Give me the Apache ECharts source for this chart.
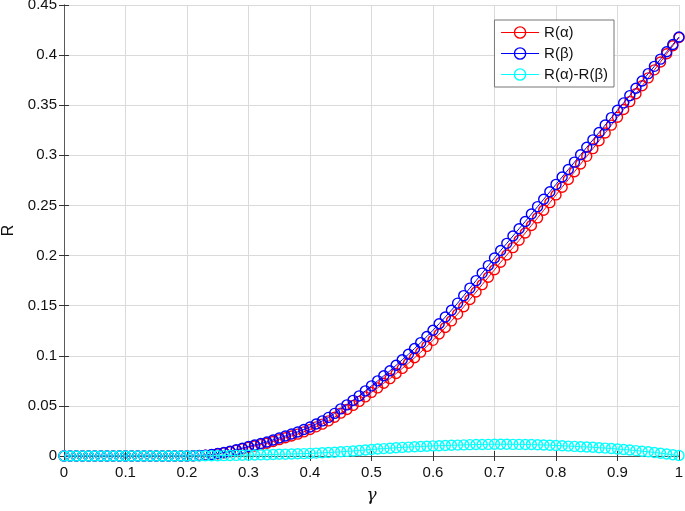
<!DOCTYPE html>
<html>
<head>
<meta charset="utf-8">
<script src="https://cdn.jsdelivr.net/npm/echarts@6/dist/echarts.min.js"></script>
<style>html,body{margin:0;padding:0;background:#fff}#c{width:685px;height:511px}</style>
</head>
<body>
<div id="c"></div>
<script>
const gamma = [0,0.01,0.02,0.03,0.04,0.05,0.06,0.07,0.08,0.09,0.1,0.11,0.12,0.13,0.14,0.15,0.16,0.17,0.18,0.19,0.2,0.21,0.22,0.23,0.24,0.25,0.26,0.27,0.28,0.29,0.3,0.31,0.32,0.33,0.34,0.35,0.36,0.37,0.38,0.39,0.4,0.41,0.42,0.43,0.44,0.45,0.46,0.47,0.48,0.49,0.5,0.51,0.52,0.53,0.54,0.55,0.56,0.57,0.58,0.59,0.6,0.61,0.62,0.63,0.64,0.65,0.66,0.67,0.68,0.69,0.7,0.71,0.72,0.73,0.74,0.75,0.76,0.77,0.78,0.79,0.8,0.81,0.82,0.83,0.84,0.85,0.86,0.87,0.88,0.89,0.9,0.91,0.92,0.93,0.94,0.95,0.96,0.97,0.98,0.99,1];
const rBeta = [0,0,0,0,0,0,0,0,0,0,0,0,0,0,0,0,0,0,0,0,0,0.0002,0.0005,0.0009,0.0015,0.0025,0.0035,0.0048,0.0062,0.0078,0.0095,0.011,0.0125,0.014,0.016,0.018,0.020,0.022,0.024,0.0265,0.029,0.032,0.035,0.0385,0.0425,0.047,0.051,0.0555,0.060,0.065,0.070,0.075,0.080,0.085,0.0905,0.096,0.1015,0.1072,0.1131,0.1192,0.1255,0.132,0.1387,0.1455,0.1525,0.160,0.1675,0.175,0.1825,0.190,0.1975,0.205,0.2122,0.2195,0.2268,0.234,0.2414,0.2488,0.2562,0.2636,0.271,0.2784,0.2858,0.2932,0.3006,0.308,0.3154,0.3228,0.3302,0.3376,0.345,0.3523,0.3596,0.3669,0.3742,0.3815,0.3888,0.396,0.4033,0.4106,0.418];
const rAlpha = [0,0,0,0,0,0,0,0,0,0,0,0,0,0,0,0,0,0,0,0,0,0.0001,0.0004,0.0007,0.0013,0.0022,0.0031,0.0043,0.0056,0.0071,0.0086,0.0100,0.0113,0.0127,0.0145,0.0163,0.0182,0.0200,0.0218,0.0241,0.0264,0.0291,0.0318,0.0350,0.0387,0.0428,0.0464,0.0505,0.0545,0.0590,0.0635,0.0680,0.0726,0.0772,0.0823,0.0874,0.0926,0.0980,0.1036,0.1094,0.1154,0.1217,0.1282,0.1348,0.1416,0.1489,0.1562,0.1636,0.1710,0.1784,0.1858,0.1933,0.2005,0.2079,0.2152,0.2225,0.2300,0.2376,0.2452,0.2528,0.2605,0.2682,0.2759,0.2836,0.2913,0.2990,0.3067,0.3145,0.3223,0.3301,0.3380,0.3458,0.3536,0.3615,0.3694,0.3773,0.3853,0.3932,0.4013,0.4094,0.4175];
const rDiff = [0,0,0,0,0,0,0,0,0,0,0,0,0,0,0,0,0,0,0,0,0,0.0001,0.0001,0.0002,0.0002,0.0003,0.0004,0.0005,0.0006,0.0007,0.0009,0.001,0.0012,0.0013,0.0015,0.0017,0.0018,0.002,0.0022,0.0024,0.0026,0.0029,0.0032,0.0035,0.0038,0.0042,0.0046,0.005,0.0055,0.006,0.0065,0.007,0.0074,0.0078,0.0082,0.0086,0.0089,0.0092,0.0095,0.0098,0.0101,0.0103,0.0105,0.0107,0.0109,0.0111,0.0113,0.0114,0.0115,0.0116,0.0117,0.0117,0.0117,0.0116,0.0116,0.0115,0.0114,0.0112,0.011,0.0108,0.0105,0.0102,0.0099,0.0096,0.0093,0.009,0.0087,0.0083,0.0079,0.0075,0.007,0.0065,0.006,0.0054,0.0048,0.0042,0.0035,0.0028,0.002,0.0012,0.0005];
const seriesNames = ['R(α)', 'R(β)', 'R(α)-R(β)'];
const seriesColors = ['#ff0000', '#0000ff', '#00ffff'];
const seriesData = [rAlpha, rBeta, rDiff];

const font = "'Liberation Sans', Arial, Helvetica, sans-serif";
const chart = echarts.init(document.getElementById('c'), null, {renderer: 'canvas'});

const mkSeries = (i) => ({
  name: seriesNames[i],
  type: 'line',
  data: gamma.map((g, k) => [g, seriesData[i][k]]),
  symbol: 'circle',
  symbolSize: 10,
  showSymbol: true,
  animation: false,
  lineStyle: {color: seriesColors[i], width: 1},
  itemStyle: {color: 'rgba(0,0,0,0)', borderColor: seriesColors[i], borderWidth: 1.4},
  emphasis: {disabled: true},
  z: 3 + i
});

const axisCommon = {
  axisLine: {show: true, lineStyle: {color: '#5a5a5a', width: 1}},
  axisTick: {show: true, inside: true, length: 5, lineStyle: {color: '#333'}},
};

chart.setOption({
  backgroundColor: '#fff',
  animation: false,
  grid: {left: 64, right: 6, top: 5, bottom: 55, containLabel: false, outerBoundsMode: 'none'},
  legend: {
    orient: 'vertical',
    right: 71, top: 20,
    backgroundColor: '#fff',
    borderColor: '#777', borderWidth: 1,
    padding: [5, 6, 5, 6],
    itemGap: 6,
    itemWidth: 38, itemHeight: 14,
    textStyle: {fontFamily: font, fontSize: 15, color: '#111'},
    data: seriesNames.map((n, i) => ({
      name: n,
      itemStyle: {color: 'rgba(0,0,0,0)', borderColor: seriesColors[i], borderWidth: 1.4},
      lineStyle: {color: seriesColors[i], width: 1.2}
    }))
  },
  xAxis: [{
    type: 'value', min: 0, max: 1, interval: 0.1,
    ...axisCommon,
    splitLine: {show: true, lineStyle: {color: '#dadada', width: 1}},
    axisLabel: {fontFamily: font, fontSize: 15, color: '#111', margin: 9},
    name: 'γ', nameLocation: 'middle', nameGap: 31,
    nameTextStyle: {fontFamily: "'DejaVu Serif', 'Liberation Serif', serif", fontStyle: 'italic', fontSize: 17, color: '#111'}
  }, {
    type: 'value', min: 0, max: 1, interval: 0.1, position: 'top',
    ...axisCommon,
    splitLine: {show: false}, axisLabel: {show: false}
  }],
  yAxis: [{
    type: 'value', min: 0, max: 0.45, interval: 0.05,
    ...axisCommon,
    splitLine: {show: true, lineStyle: {color: '#dadada', width: 1}},
    axisLabel: {fontFamily: font, fontSize: 15, color: '#111', margin: 7},
    name: 'R', nameLocation: 'middle', nameGap: 47, nameRotate: 90,
    nameTextStyle: {fontFamily: font, fontSize: 16, color: '#111'}
  }, {
    type: 'value', min: 0, max: 0.45, interval: 0.05, position: 'right',
    ...axisCommon,
    splitLine: {show: false}, axisLabel: {show: false}
  }],
  series: [mkSeries(0), mkSeries(1), mkSeries(2)]
});
</script>
</body>
</html>
